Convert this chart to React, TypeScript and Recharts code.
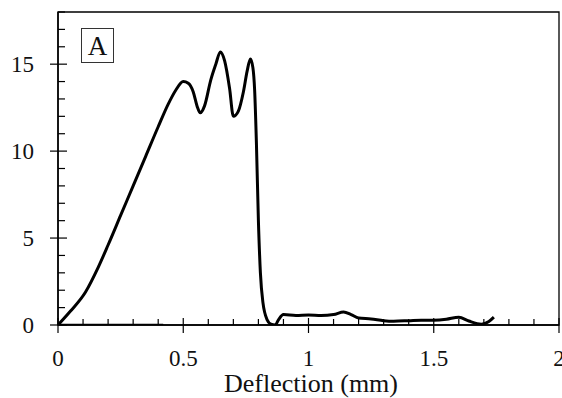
import React from 'react';
import { LineChart, Line, XAxis, YAxis, ReferenceArea } from 'recharts';

const deflection = [
  0, 0.05, 0.11, 0.16, 0.2, 0.25, 0.3, 0.35, 0.4, 0.44, 0.47, 0.5, 0.52, 0.54, 0.555, 0.568,
  0.585, 0.61, 0.63, 0.648, 0.665, 0.685, 0.7, 0.72, 0.74, 0.755, 0.768, 0.778, 0.785, 0.792,
  0.8, 0.808, 0.818, 0.835, 0.85, 0.867, 0.88, 0.9, 0.95, 1.0, 1.05, 1.1, 1.14, 1.17, 1.2, 1.25,
  1.3, 1.34, 1.4, 1.45, 1.5, 1.55, 1.6, 1.64, 1.69, 1.72, 1.74,
];
const load = [
  0, 0.8, 1.9, 3.3, 4.6, 6.3, 8.0, 9.7, 11.4, 12.7, 13.5, 14.0, 13.9, 13.4, 12.6, 12.2,
  12.6, 14.1, 15.0, 15.7, 15.2, 13.6, 12.0, 12.3, 13.4, 14.6, 15.3, 14.8, 13.5, 10.5,
  6.0, 3.0, 1.3, 0.3, 0.05, 0, 0.3, 0.6, 0.55, 0.57, 0.55, 0.6, 0.75, 0.6, 0.4, 0.35,
  0.25, 0.22, 0.25, 0.28, 0.28, 0.33, 0.45, 0.23, 0.05, 0.2, 0.45,
];
const baseDeflection = [0, 0.1, 0.2, 0.3, 0.42];
const baseLoad = [0, 0, 0, 0, 0];

const xTicks = [
  0, 0.1, 0.2, 0.3, 0.4, 0.5, 0.6, 0.7, 0.8, 0.9, 1, 1.1, 1.2, 1.3, 1.4, 1.5, 1.6, 1.7, 1.8, 1.9, 2,
];
const xMajor = [0, 0.5, 1, 1.5, 2];
const yTicks = [0, 1, 2, 3, 4, 5, 6, 7, 8, 9, 10, 11, 12, 13, 14, 15, 16, 17, 18];
const yMajor = [0, 5, 10, 15];
const panelLabel = 'A';
const xLabel = 'Deflection (mm)';

const curve = deflection.map((d, i) => ({ x: d, y: load[i] }));
const baseCurve = baseDeflection.map((d, i) => ({ x: d, y: baseLoad[i] }));

const FONT = '"Liberation Serif", "Times New Roman", serif';
const textStyle = { fontFamily: FONT, fontSize: 23 };

const XTick = (props: any) => {
  const { x, y, payload } = props;
  const v = payload.value;
  const major = xMajor.some((m) => Math.abs(m - v) < 1e-6);
  if (major) {
    return (
      <g>
        <line x1={x} x2={x} y1={y - 7} y2={y + 8} stroke="#000" strokeWidth={1.2} />
        <text x={x} y={y + 41} textAnchor="middle" style={textStyle} fill="#111">
          {String(v)}
        </text>
      </g>
    );
  }
  return <line x1={x} x2={x} y1={y} y2={y - 6} stroke="#000" strokeWidth={1.2} />;
};

const YTick = (props: any) => {
  const { x, y, payload } = props;
  const v = payload.value;
  const major = yMajor.some((m) => Math.abs(m - v) < 1e-6);
  if (major) {
    return (
      <g>
        <line x1={x - 8} x2={x + 9} y1={y} y2={y} stroke="#000" strokeWidth={1.2} />
        <text x={x - 24} y={y + 8} textAnchor="end" style={textStyle} fill="#111">
          {String(v)}
        </text>
      </g>
    );
  }
  return <line x1={x} x2={x + 7} y1={y} y2={y} stroke="#000" strokeWidth={1.2} />;
};

export default function App() {
  return (
    <div style={{ position: 'absolute', left: 0, top: 0, width: 562, height: 398, background: '#fff', overflow: 'hidden' }}>
      <LineChart
        width={562}
        height={398}
        margin={{ top: 12, right: 3, left: 0, bottom: 0 }}
      >
        <XAxis
          type="number"
          dataKey="x"
          domain={[0, 2]}
          ticks={xTicks}
          interval={0}
          allowDataOverflow
          height={73}
          tickSize={0}
          tickMargin={0}
          tickLine={false}
          axisLine={{ stroke: '#000', strokeWidth: 1.5 }}
          tick={<XTick />}
        />
        <YAxis
          type="number"
          dataKey="y"
          domain={[0, 18]}
          ticks={yTicks}
          interval={0}
          allowDataOverflow
          width={58}
          tickSize={0}
          tickMargin={0}
          tickLine={false}
          axisLine={{ stroke: '#000', strokeWidth: 1.5 }}
          tick={<YTick />}
        />
        <ReferenceArea x1={0} x2={2} y1={0} y2={18} fill="none" stroke="#000" strokeWidth={1.3} ifOverflow="visible" />
        <Line
          data={baseCurve}
          dataKey="y"
          type="linear"
          stroke="#000"
          strokeWidth={2.5}
          dot={false}
          isAnimationActive={false}
        />
        <Line
          data={curve}
          dataKey="y"
          type="monotone"
          stroke="#000"
          strokeWidth={3}
          dot={false}
          isAnimationActive={false}
        />
      </LineChart>
      <div
        style={{
          position: 'absolute',
          left: 211,
          top: 369,
          width: 200,
          textAlign: 'center',
          fontFamily: FONT,
          fontSize: 26,
          lineHeight: '29px',
          color: '#111',
          whiteSpace: 'nowrap',
        }}
      >
        {xLabel}
      </div>
      <div
        style={{
          position: 'absolute',
          left: 81,
          top: 28,
          width: 31,
          height: 33,
          border: '1px solid #333',
          fontFamily: FONT,
          fontSize: 27,
          lineHeight: '35px',
          textAlign: 'center',
          color: '#111',
        }}
      >
        {panelLabel}
      </div>
    </div>
  );
}
